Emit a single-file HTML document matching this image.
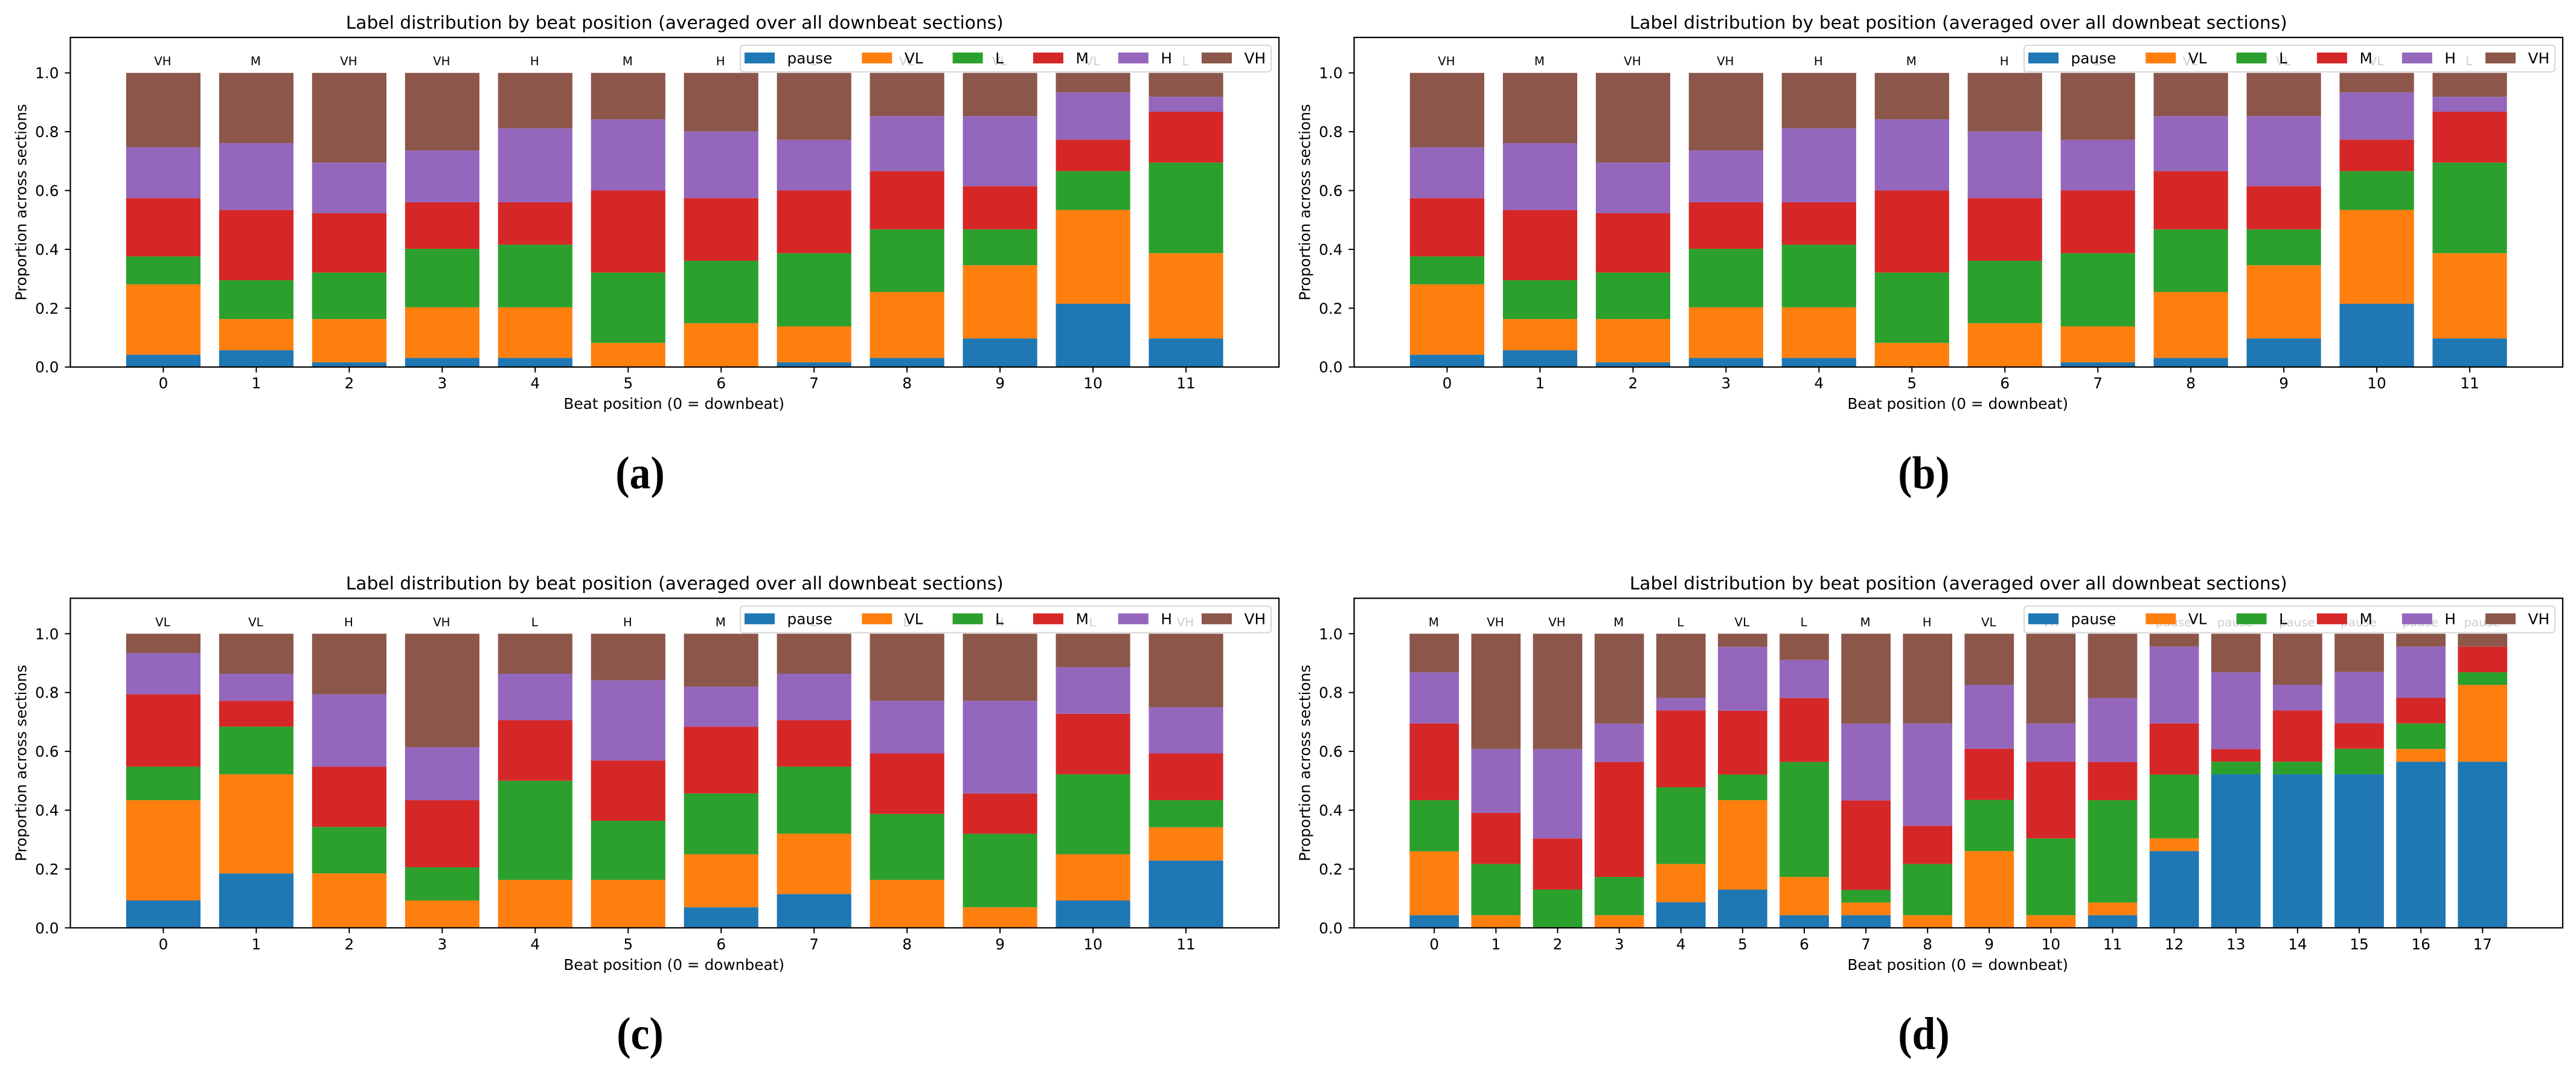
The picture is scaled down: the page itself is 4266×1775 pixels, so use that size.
<!DOCTYPE html>
<html lang="en">
<head>
<meta charset="utf-8">
<title>Label distribution by beat position</title>
<style>
  html, body { margin: 0; padding: 0; background: #fff; }
  body { width: 4266px; height: 1775px; overflow: hidden; }
  svg { display: block; }
  text { font-family: "DejaVu Sans", "Liberation Sans", sans-serif; fill: #000; }
  .caption { font-family: "Liberation Serif", serif; font-weight: 700; }
</style>
</head>
<body>
<svg id="figure" xmlns="http://www.w3.org/2000/svg" width="4266" height="1775" viewBox="0 0 4266 1775"></svg>
<script>
const labelNames = ['pause', 'VL', 'L', 'M', 'H', 'VH'];
const labelColors = ['#1f77b4', '#ff7f0e', '#2ca02c', '#d62728', '#9467bd', '#8c564b'];
const yTickValues = [0, 0.2, 0.4, 0.6, 0.8, 1.0];
const yTickLabels = ['0.0', '0.2', '0.4', '0.6', '0.8', '1.0'];
const chartTitle = 'Label distribution by beat position (averaged over all downbeat sections)';
const xAxisTitle = 'Beat position (0 = downbeat)';
const yAxisTitle = 'Proportion across sections';

/* Panel (a) */
const beatsA = [0, 1, 2, 3, 4, 5, 6, 7, 8, 9, 10, 11];
const dominantA = ['VH', 'M', 'VH', 'VH', 'H', 'M', 'H', 'L', 'VL', 'VL', 'VL', 'L'];
const pauseA = [.042, .057, .016, .031, .031, 0, 0, .016, .031, .097, .215, .097];
const vlA = [.239, .106, .147, .172, .172, .082, .149, .122, .224, .249, .319, .290];
const lA = [.095, .132, .158, .199, .213, .239, .212, .249, .213, .122, .132, .308];
const mA = [.198, .239, .202, .158, .144, .279, .213, .213, .198, .147, .107, .173];
const hA = [.173, .227, .172, .176, .252, .242, .227, .172, .187, .238, .161, .051];
const vhA = [.253, .239, .305, .264, .188, .158, .199, .228, .147, .147, .066, .081];

/* Panel (b) */
const beatsB = [0, 1, 2, 3, 4, 5, 6, 7, 8, 9, 10, 11];
const dominantB = ['VH', 'M', 'VH', 'VH', 'H', 'M', 'H', 'L', 'VL', 'VL', 'VL', 'L'];
const pauseB = [.042, .057, .016, .031, .031, 0, 0, .016, .031, .097, .215, .097];
const vlB = [.239, .106, .147, .172, .172, .082, .149, .122, .224, .249, .319, .290];
const lB = [.095, .132, .158, .199, .213, .239, .212, .249, .213, .122, .132, .308];
const mB = [.198, .239, .202, .158, .144, .279, .213, .213, .198, .147, .107, .173];
const hB = [.173, .227, .172, .176, .252, .242, .227, .172, .187, .238, .161, .051];
const vhB = [.253, .239, .305, .264, .188, .158, .199, .228, .147, .147, .066, .081];

/* Panel (c) */
const beatsC = [0, 1, 2, 3, 4, 5, 6, 7, 8, 9, 10, 11];
const dominantC = ['VL', 'VL', 'H', 'VH', 'L', 'H', 'M', 'L', 'L', 'H', 'L', 'VH'];
const pauseC = [.093, .185, 0, 0, 0, 0, .070, .115, 0, 0, .093, .229];
const vlC = [.341, .337, .185, .093, .163, .163, .180, .205, .163, .070, .157, .113];
const lC = [.114, .162, .158, .113, .337, .201, .207, .228, .224, .250, .272, .092];
const mC = [.246, .088, .205, .228, .206, .205, .227, .158, .206, .137, .206, .159];
const hC = [.140, .092, .246, .180, .158, .273, .136, .158, .179, .315, .158, .157];
const vhC = [.066, .136, .206, .386, .136, .158, .180, .136, .228, .228, .114, .250];

/* Panel (d) */
const beatsD = [0, 1, 2, 3, 4, 5, 6, 7, 8, 9, 10, 11, 12, 13, 14, 15, 16, 17];
const dominantD = ['M', 'VH', 'VH', 'M', 'L', 'VL', 'L', 'M', 'H', 'VL', 'VH', 'L', 'pause', 'pause', 'pause', 'pause', 'pause', 'pause'];
const pauseD = [.043, 0, 0, 0, .087, .130, .043, .043, 0, 0, 0, .043, .261, .522, .522, .522, .565, .565];
const vlD = [.217, .043, 0, .043, .130, .304, .130, .043, .043, .261, .043, .043, .043, 0, 0, 0, .043, .261];
const lD = [.174, .174, .130, .130, .261, .087, .391, .043, .174, .174, .261, .348, .217, .043, .043, .087, .087, .043];
const mD = [.261, .174, .174, .391, .261, .217, .217, .304, .130, .174, .261, .130, .174, .043, .174, .087, .087, .087];
const hD = [.174, .217, .304, .130, .043, .217, .130, .261, .348, .217, .130, .217, .261, .261, .087, .174, .174, 0];
const vhD = [.131, .392, .392, .306, .218, .045, .089, .306, .305, .174, .305, .219, .044, .131, .174, .130, .044, .044];

const NS = 'http://www.w3.org/2000/svg';
const figure = document.getElementById('figure');

const PLOT_LEFT = 116.5, PLOT_WIDTH = 2001.5, PLOT_TOP = 62, PLOT_BOTTOM = 607.7;
const COL_STEP = 2126, ROW_STEP = 928.6, Y_MAX = 1.1205;
const FONT_TITLE = 29.7, FONT_AXIS = 24.8, FONT_NOTE = 19.8;

function make(parent, tag, attrs, content) {
  const el = document.createElementNS(NS, tag);
  for (const k in attrs) el.setAttribute(k, attrs[k]);
  if (content !== undefined) el.textContent = content;
  parent.appendChild(el);
  return el;
}

function drawPanel(col, row, caption, beats, dominant, series, xMin, xMax) {
  const ox = col * COL_STEP, oy = row * ROW_STEP;
  const left = PLOT_LEFT + ox, right = left + PLOT_WIDTH;
  const top = PLOT_TOP + oy, bottom = PLOT_BOTTOM + oy;
  const xScale = v => left + (v - xMin) / (xMax - xMin) * PLOT_WIDTH;
  const yScale = v => bottom - v / Y_MAX * (bottom - top);
  const barWidth = (xScale(1) - xScale(0)) * 0.8;

  const panel = make(figure, 'g', {});
  
  

  const title = make(panel, 'text', { x: (left + right) / 2, y: top - 14.5, 'text-anchor': 'middle', 'font-size': FONT_TITLE }, chartTitle);
  
  

  const plotBg = make(panel, 'rect', { x: left, y: top, width: PLOT_WIDTH, height: bottom - top, fill: '#fff' });
  
  

  /* stacked bars */
  beats.forEach((beat, i) => {
    let base = 0;
    series.forEach((values, s) => {
      const h = values[i];
      if (h > 0) {
        const rect = make(panel, 'rect', {
          x: xScale(beat) - barWidth / 2,
          y: yScale(base + h),
          width: barWidth,
          height: yScale(base) - yScale(base + h),
          fill: labelColors[s]
        });
        
        
      }
      base += h;
    });
    const note = make(panel, 'text', { x: xScale(beat) - 1, y: yScale(1) - 12.5, 'text-anchor': 'middle', 'font-size': FONT_NOTE }, dominant[i]);
    
    
  });

  /* x ticks */
  beats.forEach(beat => {
    const tick = make(panel, 'line', { x1: xScale(beat), x2: xScale(beat), y1: bottom, y2: bottom + 9, stroke: '#000', 'stroke-width': 2 });
    
    
    const label = make(panel, 'text', { x: xScale(beat), y: bottom + 35.5, 'text-anchor': 'middle', 'font-size': FONT_AXIS }, String(beat));
    
    
  });

  /* y ticks */
  yTickValues.forEach((value, i) => {
    const tick = make(panel, 'line', { x1: left - 9, x2: left, y1: yScale(value), y2: yScale(value), stroke: '#000', 'stroke-width': 2 });
    
    
    const label = make(panel, 'text', { x: left - 19, y: yScale(value) + 9, 'text-anchor': 'end', 'font-size': FONT_AXIS }, yTickLabels[i]);
    
    
  });

  /* axis titles */
  const xTitle = make(panel, 'text', { x: (left + right) / 2 - 1, y: bottom + 69.5, 'text-anchor': 'middle', 'font-size': FONT_AXIS }, xAxisTitle);
  
  
  const yMid = (top + bottom) / 2, yTitleX = left - 73;
  const yTitle = make(panel, 'text', { x: yTitleX, y: yMid, 'text-anchor': 'middle', 'font-size': FONT_AXIS, transform: 'rotate(-90 ' + yTitleX + ' ' + yMid + ')' }, yAxisTitle);
  
  

  /* spines */
  const frame = make(panel, 'rect', { x: left, y: top, width: PLOT_WIDTH, height: bottom - top, fill: 'none', stroke: '#000', 'stroke-width': 2.2 });
  
  

  /* legend */
  const legendX = left + 1109.5, legendY = top + 13, legendW = 879, legendH = 44;
  const legend = make(panel, 'g', {});
  
  
  const box = make(legend, 'rect', { x: legendX, y: legendY, width: legendW, height: legendH, rx: 5, ry: 5, fill: 'rgba(255,255,255,0.8)', stroke: 'rgba(204,204,204,0.8)', 'stroke-width': 2 });
  
  
  let cursor = legendX + 7;
  labelNames.forEach((name, s) => {
    const swatch = make(legend, 'rect', { x: cursor, y: legendY + 12, width: 50, height: 18, fill: labelColors[s] });
    
    
    const text = make(legend, 'text', { x: cursor + 70.5, y: legendY + 30, 'font-size': FONT_AXIS }, name);
    
    
    cursor += 70.5 + text.getComputedTextLength() + 49;
  });

  /* sub-figure caption */
  const capX = 1060 + ox;
  const cap = make(figure, 'text', { x: 0, y: 0, 'text-anchor': 'middle', 'font-size': 76, class: 'caption', transform: 'translate(' + capX + ' ' + (808.5 + oy) + ') scale(0.92 1)' }, caption);
  
  
}

drawPanel(0, 0, '(a)', beatsA, dominantA, [pauseA, vlA, lA, mA, hA, vhA], -1, 12);
drawPanel(1, 0, '(b)', beatsB, dominantB, [pauseB, vlB, lB, mB, hB, vhB], -1, 12);
drawPanel(0, 1, '(c)', beatsC, dominantC, [pauseC, vlC, lC, mC, hC, vhC], -1, 12);
drawPanel(1, 1, '(d)', beatsD, dominantD, [pauseD, vlD, lD, mD, hD, vhD], -1.3, 18.3);
</script>
</body>
</html>
